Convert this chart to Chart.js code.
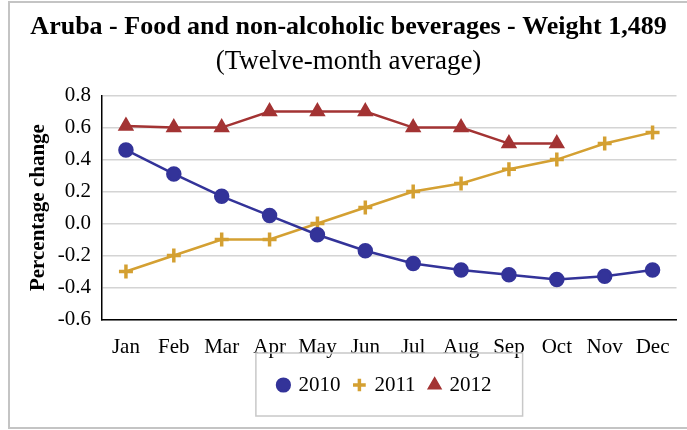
<!DOCTYPE html>
<html>
<head>
<meta charset="utf-8">
<script src="https://cdn.jsdelivr.net/npm/chart.js@4/dist/chart.umd.min.js"></script>
<style>
  html, body { margin: 0; padding: 0; background: #fff; }
  #wrap { width: 687px; height: 430px; position: relative; }
</style>
</head>
<body>
<div id="wrap"><canvas id="chart" width="687" height="430"></canvas></div>
<script>
const months = ["Jan", "Feb", "Mar", "Apr", "May", "Jun", "Jul", "Aug", "Sep", "Oct", "Nov", "Dec"];
const values2010 = [0.46, 0.31, 0.17, 0.05, -0.07, -0.17, -0.25, -0.29, -0.32, -0.35, -0.33, -0.29];
const values2011 = [-0.30, -0.20, -0.10, -0.10, 0.00, 0.10, 0.20, 0.25, 0.34, 0.40, 0.50, 0.57];
const values2012 = [0.61, 0.60, 0.60, 0.70, 0.70, 0.70, 0.60, 0.60, 0.50, 0.50, null, null];

const serif = "'Liberation Serif', 'Times New Roman', serif";

// outer frame, box round the legend, legend centred under the plot
const framePlugin = {
  id: "frame",
  afterLayout(chart) {
    const lg = chart.legend;
    const shift = (chart.chartArea.left + chart.chartArea.right) / 2 - (lg.left + lg.right) / 2 - 4;
    lg.left += shift;
    lg.right += shift;
  },
  afterDraw(chart) {
    const c = chart.ctx;
    c.save();
    c.strokeStyle = "#c4c4c4";
    c.lineWidth = 2;
    c.strokeRect(9, 2, 700, 426);
    const boxes = chart.legend.legendHitBoxes;
    if (boxes && boxes.length) {
      const left = Math.min(...boxes.map(b => b.left));
      const right = Math.max(...boxes.map(b => b.left + b.width));
      const mid = boxes[0].top + boxes[0].height / 2;
      c.lineWidth = 1.5;
      c.strokeStyle = "#c8c8c8";
      c.strokeRect(left - 23, mid - 32, right - left + 54, 63);
    }
    c.restore();
  }
};

const ctx = document.getElementById("chart").getContext("2d");
new Chart(ctx, {
  type: "line",
  data: {
    labels: months,
    datasets: [
      {
        label: "2010",
        data: values2010,
        borderColor: "#333399",
        backgroundColor: "#333399",
        borderWidth: 2.5,
        pointStyle: "circle",
        pointRadius: 6.5,
        pointHoverRadius: 6.5
      },
      {
        label: "2011",
        data: values2011,
        borderColor: "#D4A032",
        backgroundColor: "#D4A032",
        borderWidth: 2.5,
        pointStyle: "cross",
        pointRadius: 7,
        pointBorderWidth: 3.5,
        pointHoverRadius: 7
      },
      {
        label: "2012",
        data: values2012,
        borderColor: "#A33333",
        backgroundColor: "#A33333",
        borderWidth: 2.5,
        pointStyle: "triangle",
        pointRadius: 7,
        pointHoverRadius: 7
      }
    ]
  },
  options: {
    responsive: false,
    animation: false,
    spanGaps: false,
    layout: { padding: { left: 20, right: 10, top: 0, bottom: 24.5 } },
    plugins: {
      tooltip: { enabled: false },
      title: {
        display: true,
        text: "Aruba - Food and non-alcoholic beverages - Weight 1,489",
        color: "#000",
        font: { family: serif, size: 26, weight: "bold", lineHeight: 1.2 },
        padding: { top: 12, bottom: 3 }
      },
      subtitle: {
        display: true,
        text: "(Twelve-month average)",
        color: "#000",
        font: { family: serif, size: 27, lineHeight: 1.2 },
        padding: { top: 0, bottom: 17 }
      },
      legend: {
        position: "bottom",
        labels: {
          color: "#000",
          font: { family: serif, size: 21 },
          usePointStyle: true,
          boxWidth: 9,
          boxHeight: 9,
          padding: 14.5
        }
      }
    },
    scales: {
      x: {
        offset: true,
        grid: { display: false, drawTicks: false, offset: true },
        border: { color: "#000", width: 1.5 },
        ticks: {
          color: "#000",
          font: { family: serif, size: 21 },
          padding: 15,
          maxRotation: 0,
          autoSkip: false
        },
        afterFit(scale) { scale.height = 40.5; }
      },
      y: {
        min: -0.6,
        max: 0.8,
        grid: { color: "#d4d4d4", lineWidth: 1.5, drawTicks: false },
        border: { color: "#000", width: 1.5 },
        ticks: {
          stepSize: 0.2,
          color: "#000",
          font: { family: serif, size: 21 },
          padding: 11,
          callback: (v) => v.toFixed(1)
        },
        title: {
          display: true,
          text: "Percentage change",
          color: "#000",
          font: { family: serif, size: 21, weight: "bold" },
          padding: { top: 6, bottom: 0 }
        },
        afterFit(scale) { scale.width = 82; }
      }
    }
  },
  plugins: [framePlugin]
});
</script>
</body>
</html>
